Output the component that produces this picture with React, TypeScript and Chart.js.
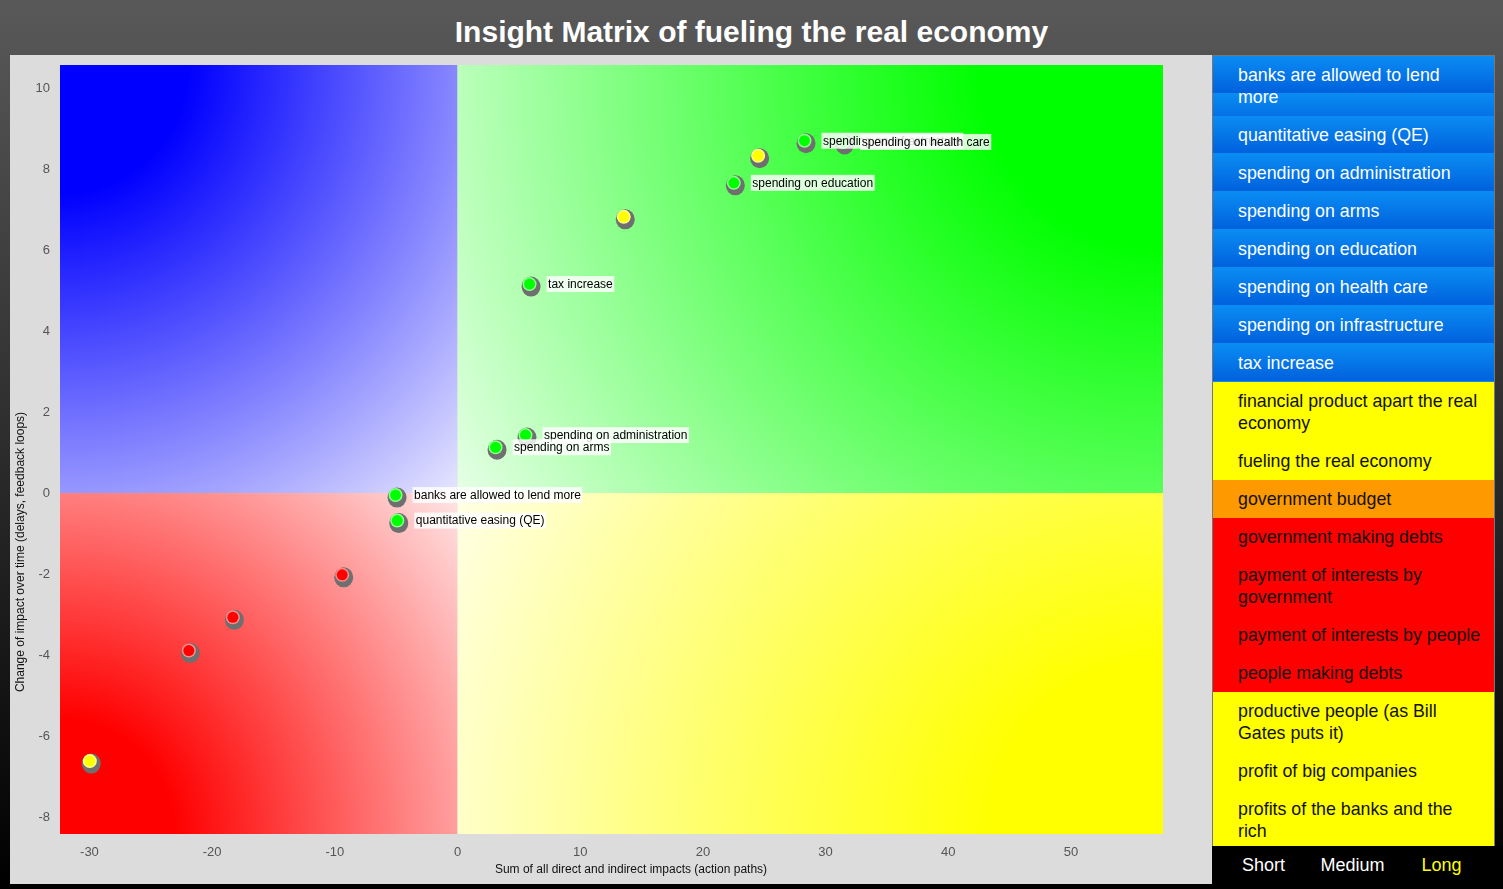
import React, { useEffect, useRef } from "react";
import { Chart, registerables } from "chart.js";

Chart.register(...registerables);

const FONT = "'Liberation Sans', Arial, Helvetica, sans-serif";

// ---- data ----
const pointLabels = [
  "banks are allowed to lend more",
  "quantitative easing (QE)",
  "spending on administration",
  "spending on arms",
  "spending on education",
  "spending on infrastructure",
  "spending on health care",
  "tax increase",
  "",
  "",
  "",
  "",
  "",
  "",
];
const xValues = [-5.05, -4.91, 5.54, 3.1, 22.52, 28.28, 31.43, 5.87, 13.55, 24.5, -9.4, -18.31, -21.9, -29.97];
const yValues = [-0.05, -0.68, 1.43, 1.13, 7.66, 8.7, 8.67, 5.16, 6.82, 8.33, -2.02, -3.07, -3.89, -6.62];
const markerColors = [
  "#00ff00", "#00ff00", "#00ff00", "#00ff00", "#00ff00", "#00ff00", "#00ff00", "#00ff00",
  "#ffff00", "#ffff00", "#ff0000", "#ff0000", "#ff0000", "#ffff00",
];
const xTicks = [-30, -20, -10, 0, 10, 20, 30, 40, 50];
const yTicks = [-8, -6, -4, -2, 0, 2, 4, 6, 8, 10];
const xRange = [-32.4, 57.5];
const yRange = [-8.42, 10.57];

const chartTitle = "Insight Matrix of fueling the real economy";
const xAxisTitle = "Sum of all direct and indirect impacts (action paths)";
const yAxisTitle = "Change of impact over time (delays, feedback loops)";

const legendItems = [
  "banks are allowed to lend\nmore",
  "quantitative easing (QE)",
  "spending on administration",
  "spending on arms",
  "spending on education",
  "spending on health care",
  "spending on infrastructure",
  "tax increase",
  "financial product apart the real\neconomy",
  "fueling the real economy",
  "government budget",
  "government making debts",
  "payment of interests by\ngovernment",
  "payment of interests by people",
  "people making debts",
  "productive people (as Bill\nGates puts it)",
  "profit of big companies",
  "profits of the banks and the\nrich",
];
const legendKinds = [
  "blue", "blue", "blue", "blue", "blue", "blue", "blue", "blue",
  "yellow", "yellow", "orange", "red", "red", "red", "red", "yellow", "yellow", "yellow",
];
const horizonLabels = ["Short", "Medium", "Long"];
const horizonColors = ["#ffffff", "#ffffff", "#ffff00"];

function mix(hex: string, f: number) {
  const r = parseInt(hex.slice(1, 3), 16);
  const g = parseInt(hex.slice(3, 5), 16);
  const b = parseInt(hex.slice(5, 7), 16);
  const m = (c: number) => Math.round(c + (255 - c) * f);
  return `rgb(${m(r)},${m(g)},${m(b)})`;
}

const quadrantPlugin = {
  id: "quadrants",
  beforeDatasetsDraw(chart: any) {
    const { ctx, chartArea: a, scales } = chart;
    const ox = scales.x.getPixelForValue(0);
    const oy = scales.y.getPixelForValue(0);
    const quads = [
      { x0: a.left, y0: a.top, x1: ox, y1: oy, cx: a.left, cy: a.top, col: "#0000ff" },
      { x0: ox, y0: a.top, x1: a.right, y1: oy, cx: a.right, cy: a.top, col: "#00ff00" },
      { x0: a.left, y0: oy, x1: ox, y1: a.bottom, cx: a.left, cy: a.bottom, col: "#ff0000" },
      { x0: ox, y0: oy, x1: a.right, y1: a.bottom, cx: a.right, cy: a.bottom, col: "#ffff00" },
    ];
    ctx.save();
    for (const q of quads) {
      const r = Math.hypot(ox - q.cx, oy - q.cy);
      const g = ctx.createRadialGradient(q.cx, q.cy, 0, q.cx, q.cy, r);
      g.addColorStop(0, q.col);
      g.addColorStop(0.22, q.col);
      g.addColorStop(1, mix(q.col, 0.9));
      ctx.fillStyle = g;
      ctx.fillRect(q.x0, q.y0, q.x1 - q.x0, q.y1 - q.y0);
    }
    ctx.restore();
  },
  afterDatasetsDraw(chart: any) {
    const { ctx } = chart;
    const meta = chart.getDatasetMeta(0);
    ctx.save();
    // markers
    meta.data.forEach((el: any, i: number) => {
      const x = el.x;
      const y = el.y;
      ctx.fillStyle = "#6f6f6f";
      ctx.beginPath();
      ctx.ellipse(x + 1.5, y + 2.5, 9.5, 10, 0, 0, Math.PI * 2);
      ctx.fill();
      ctx.fillStyle = mix(markerColors[i], 0.55);
      ctx.beginPath();
      ctx.arc(x, y, 7, 0, Math.PI * 2);
      ctx.fill();
      ctx.fillStyle = markerColors[i];
      ctx.beginPath();
      ctx.arc(x, y, 5.5, 0, Math.PI * 2);
      ctx.fill();
    });
    // labels
    ctx.font = `12px ${FONT}`;
    ctx.textBaseline = "middle";
    ctx.textAlign = "left";
    meta.data.forEach((el: any, i: number) => {
      const t = pointLabels[i];
      if (!t) return;
      const w = ctx.measureText(t).width;
      ctx.fillStyle = "rgba(255,255,255,0.82)";
      ctx.fillRect(el.x + 17, el.y - 8, w + 3, 16);
      ctx.fillStyle = "#000";
      ctx.fillText(t, el.x + 18.5, el.y + 0.5);
    });
    ctx.restore();
  },
  afterDraw(chart: any) {
    const { ctx } = chart;
    ctx.save();
    ctx.font = `12px ${FONT}`;
    ctx.fillStyle = "#111";
    ctx.textAlign = "center";
    ctx.textBaseline = "middle";
    ctx.fillText(xAxisTitle, 621, 815);
    ctx.translate(11, 497);
    ctx.rotate(-Math.PI / 2);
    ctx.fillText(yAxisTitle, 0, 0);
    ctx.restore();
  },
};

function MatrixChart() {
  const ref = useRef<HTMLCanvasElement>(null);
  useEffect(() => {
    if (!ref.current) return;
    const chart = new Chart(ref.current, {
      type: "scatter",
      data: {
        datasets: [
          {
            data: xValues.map((x, i) => ({ x, y: yValues[i] })),
            pointRadius: 0,
            pointHoverRadius: 0,
          },
        ],
      },
      options: {
        animation: false,
        responsive: false,
        maintainAspectRatio: false,
        events: [],
        layout: { padding: { top: 10, right: 49, left: 0, bottom: 0 } },
        plugins: { legend: { display: false }, tooltip: { enabled: false } },
        scales: {
          x: {
            type: "linear",
            min: xRange[0],
            max: xRange[1],
            grid: { display: false, drawTicks: false },
            border: { display: false },
            ticks: { color: "#555", font: { size: 13, family: FONT }, padding: 11 },
            afterBuildTicks: (s: any) => {
              s.ticks = xTicks.map((v) => ({ value: v }));
            },
            afterFit: (s: any) => {
              s.height = 50;
              s.paddingLeft = 0;
              s.paddingRight = 0;
              s.paddingTop = 0;
              s.paddingBottom = 0;
            },
          },
          y: {
            type: "linear",
            min: yRange[0],
            max: yRange[1],
            grid: { display: false, drawTicks: false },
            border: { display: false },
            ticks: { color: "#555", font: { size: 13, family: FONT }, padding: 10 },
            afterBuildTicks: (s: any) => {
              s.ticks = yTicks.map((v) => ({ value: v }));
            },
            afterFit: (s: any) => {
              s.width = 50;
              s.paddingLeft = 0;
              s.paddingRight = 0;
              s.paddingTop = 0;
              s.paddingBottom = 0;
            },
          },
        },
      } as any,
      plugins: [quadrantPlugin],
    });
    return () => chart.destroy();
  }, []);
  return <canvas ref={ref} width={1202} height={829} style={{ display: "block", width: 1202, height: 829 }} />;
}

const kindStyle: Record<string, React.CSSProperties> = {
  blue: {
    backgroundImage: "linear-gradient(#0a8cf3, #0061dd)",
    backgroundSize: "100% 37px",
    backgroundColor: "#0070e6",
    color: "#ffffff",
  },
  yellow: { backgroundColor: "#ffff00", color: "#111" },
  orange: { backgroundColor: "#ff9900", color: "#111" },
  red: { backgroundColor: "#ff0000", color: "#111" },
};

export default function App() {
  return (
    <div
      style={{
        position: "fixed",
        left: 0,
        top: 0,
        width: 1503,
        height: 889,
        background: "linear-gradient(#595959, #000000)",
        fontFamily: FONT,
        overflow: "hidden",
      }}
    >
      <div
        style={{
          position: "absolute",
          left: 0,
          top: 14,
          width: 1503,
          textAlign: "center",
          color: "#fff",
          fontWeight: "bold",
          fontSize: 30,
          lineHeight: "36px",
        }}
      >
        {chartTitle}
      </div>
      <div style={{ position: "absolute", left: 10, top: 55, width: 1202, height: 829, background: "#dcdcdc" }}>
        <MatrixChart />
      </div>
      <div
        style={{
          position: "absolute",
          left: 1212,
          top: 55,
          width: 283,
          height: 791,
          boxSizing: "border-box",
          border: "1px solid #777",
          borderBottom: "none",
          overflow: "hidden",
          background: "#ffff00",
        }}
      >
        {legendItems.map((t, i) => (
          <div
            key={i}
            style={{
              ...kindStyle[legendKinds[i]],
              padding: "8px 0 8px 25px",
              fontSize: 17.8,
              lineHeight: "22px",
              whiteSpace: "pre",
            }}
          >
            {t}
          </div>
        ))}
      </div>
      <div
        style={{
          position: "absolute",
          left: 1212,
          top: 846,
          width: 291,
          height: 38,
          background: "#000",
          display: "flex",
          paddingLeft: 7,
          boxSizing: "border-box",
        }}
      >
        {horizonLabels.map((t, i) => (
          <div
            key={i}
            style={{
              width: 89,
              textAlign: "center",
              color: horizonColors[i],
              fontSize: 18,
              lineHeight: "38px",
            }}
          >
            {t}
          </div>
        ))}
      </div>
    </div>
  );
}
